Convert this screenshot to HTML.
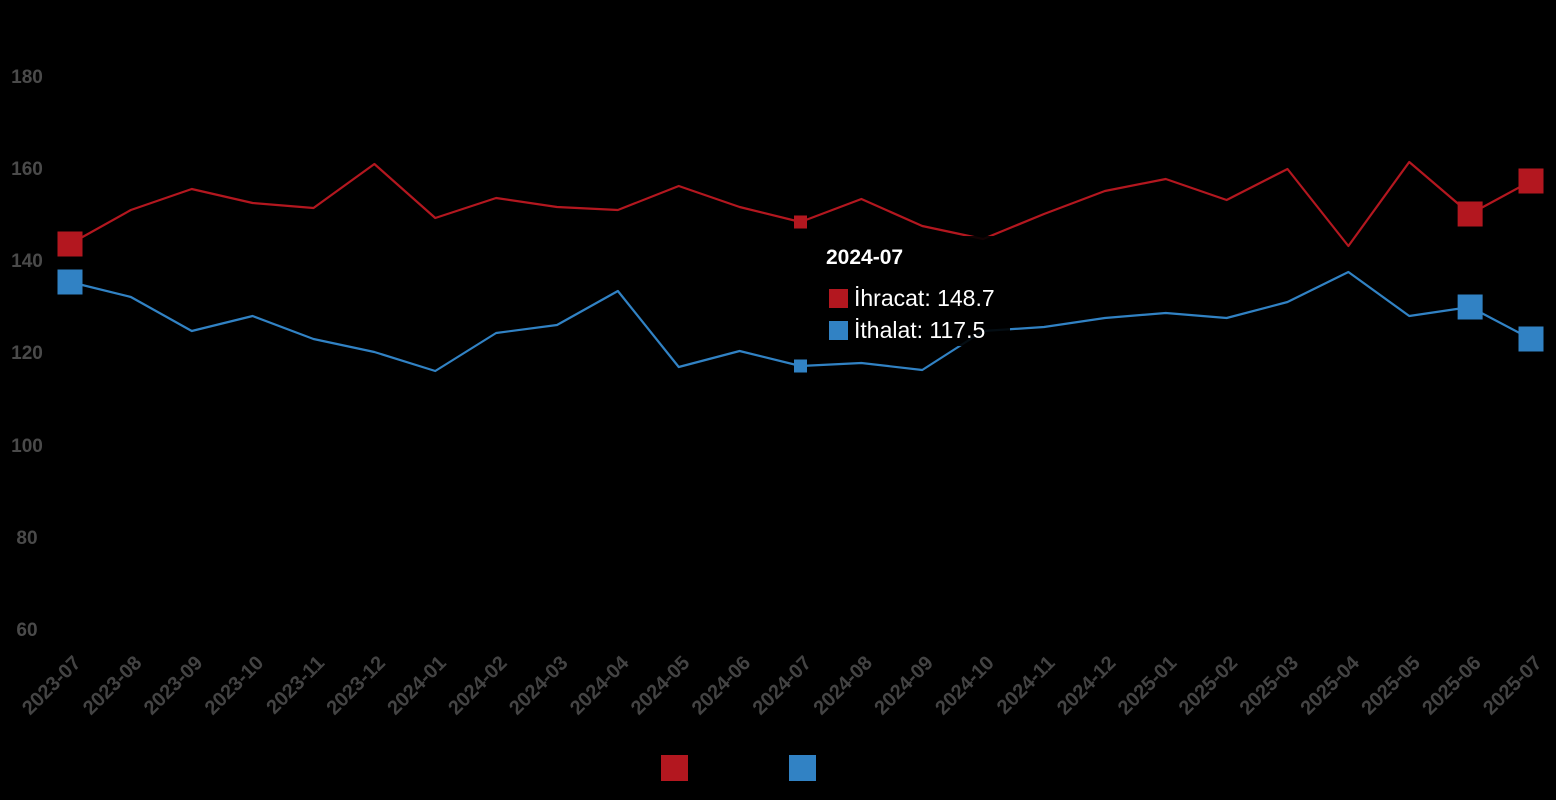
<!DOCTYPE html>
<html><head><meta charset="utf-8"><style>
html,body{margin:0;padding:0;background:#000;width:1556px;height:800px;overflow:hidden}
svg{display:block;font-family:"Liberation Sans",sans-serif}
</style></head><body>
<svg id="c" width="1556" height="800" viewBox="0 0 1556 800" xmlns="http://www.w3.org/2000/svg">
<rect width="1556" height="800" fill="#000"/>
<g font-size="19" font-weight="bold" fill="#4a4a4a" text-anchor="middle">
<text x="27" y="83">180</text><text x="27" y="175">160</text><text x="27" y="267">140</text>
<text x="27" y="359">120</text><text x="27" y="452">100</text><text x="27" y="544">80</text><text x="27" y="636">60</text>
</g>
<g id="xl" font-size="20" font-weight="bold" fill="#444" text-anchor="end"></g>
<polyline id="r" fill="none" stroke="#b3171f" stroke-width="2.2" stroke-linejoin="round"/>
<polyline id="b" fill="none" stroke="#3182c4" stroke-width="2.2" stroke-linejoin="round"/>
<g id="m"></g>
<rect x="812" y="236" width="198" height="110" fill="#000" opacity="0.9"/>
<text x="826" y="264" font-size="21" font-weight="bold" fill="#fff">2024-07</text>
<rect x="829" y="289" width="19" height="19" fill="#b3171f"/>
<text x="854" y="306" font-size="23" fill="#fff">İhracat: 148.7</text>
<rect x="829" y="321" width="19" height="19" fill="#3182c4"/>
<text x="854" y="338" font-size="23" fill="#fff">İthalat: 117.5</text>
<rect x="661" y="755" width="27" height="26" fill="#b3171f"/>
<rect x="789" y="755" width="27" height="26" fill="#3182c4"/>
</svg>
<script>
var R=[244,210,189,203,208,164,218,198,207,210,186,207,222,199,226,239,214,191,179,200,169,246,162,214,181];
var B=[282,297,331,316,339,352,371,333,325,291,367,351,366,363,370,331,327,318,313,318,302,272,316,307,339];
var L=[];for(var y=2023,mo=7,i=0;i<25;i++){L.push(y+"-"+(mo<10?"0":"")+mo);mo++;if(mo>12){mo=1;y++;}}
function X(i){return 70+i*60.875;}
var ns="http://www.w3.org/2000/svg";
document.getElementById("r").setAttribute("points",R.map(function(v,i){return X(i)+","+v}).join(" "));
document.getElementById("b").setAttribute("points",B.map(function(v,i){return X(i)+","+v}).join(" "));
var xl=document.getElementById("xl"),m=document.getElementById("m");
L.forEach(function(t,i){var e=document.createElementNS(ns,"text");var x=X(i)+12,y=664;
e.setAttribute("x",x);e.setAttribute("y",y);e.setAttribute("transform","rotate(-45 "+x+" "+y+")");e.textContent=t;xl.appendChild(e);});
function sq(i,v,s,c){var e=document.createElementNS(ns,"rect");e.setAttribute("x",X(i)-s/2);e.setAttribute("y",v-s/2);e.setAttribute("width",s);e.setAttribute("height",s);e.setAttribute("fill",c);m.appendChild(e);}
[0,23,24].forEach(function(i){sq(i,R[i],25,"#b3171f");sq(i,B[i],25,"#3182c4");});
sq(12,R[12],13,"#b3171f");sq(12,B[12],13,"#3182c4");
</script>
</body></html>
